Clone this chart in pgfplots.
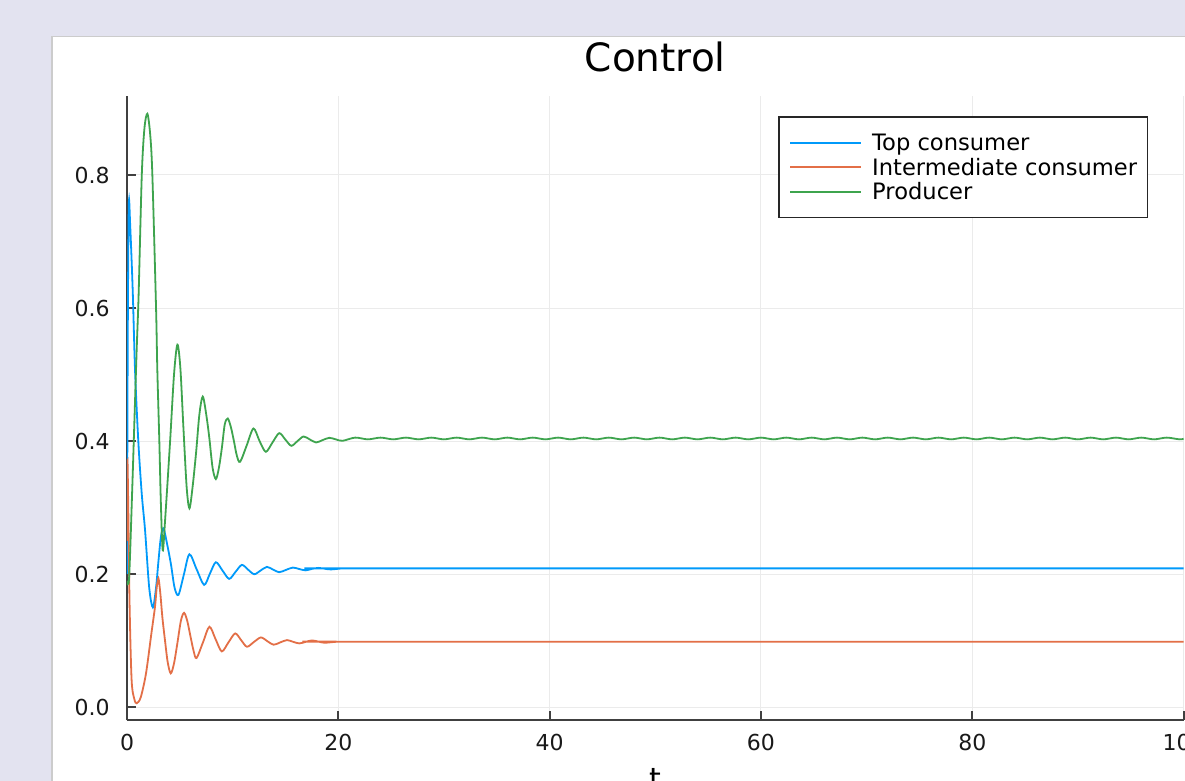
\documentclass[border=0pt]{standalone}
\usepackage{pgfplots}
\pgfplotsset{compat=1.18}
\usepackage{fontspec}
\setmainfont{DejaVu Sans}
\definecolor{bgl}{RGB}{227,227,240}
\definecolor{jblue}{RGB}{0,154,250}
\definecolor{jorange}{RGB}{227,111,71}
\definecolor{jgreen}{RGB}{62,164,78}
\begin{document}
\begin{tikzpicture}
\useasboundingbox (0pt,0pt) rectangle (592.5pt,-390.5pt);
\clip (0pt,0pt) rectangle (592.5pt,-390.5pt);
\fill[bgl] (0pt,0pt) rectangle (592.5pt,-390.5pt);
\fill[white, draw=black!20, line width=0.6pt] (26pt,-18.3pt) rectangle (640pt,-420pt);
\begin{axis}[
  at={(63.5pt,-360pt)}, anchor=south west,
  scale only axis, width=528.3pt, height=312pt,
  xmin=0, xmax=100, ymin=-0.0191, ymax=0.9187,
  axis x line*=bottom, axis y line*=left,
  axis line style={-, black!75, line width=1pt},
  xtick={0,20,40,60,80,100}, ytick={0,0.2,0.4,0.6,0.8},
  tick align=inside, major tick length=4.3pt,
  tick style={black!75, line width=1pt},
  grid=major, major grid style={black!8, line width=0.5pt},
  /pgf/number format/assume math mode=true,
  tick label style={font=\fontsize{11}{13}\selectfont, text=black!90},
  yticklabel style={anchor=east, inner sep=0pt, xshift=-8.5pt, /pgf/number format/.cd, fixed, fixed zerofill, precision=1},
  xticklabel style={anchor=base, inner sep=0pt, yshift=-15pt},
  xlabel={t},
  xlabel style={at={(0.5,0)}, anchor=base, inner sep=0pt, yshift=-34.75pt, font=\fontsize{15}{18}\selectfont},
  title={Control},
  title style={at={(0.5,1)}, anchor=base, inner sep=0pt, yshift=6.5pt, font=\fontsize{19.5}{22}\selectfont},
  legend style={at={(0.9666,0.968)}, anchor=north east, draw=black!85, line width=0.8pt, fill=white,
    inner xsep=5.2pt, inner ysep=6.8pt, font=\fontsize{11.3}{12.25}\selectfont,
    nodes={inner sep=0pt, text height=10.2pt, text depth=2.05pt},
    row sep=0pt, /tikz/every odd column/.append style={column sep=5pt}},
  legend cell align=left,
  legend image code/.code={\draw[#1, line width=1.0pt] (0pt,0pt) -- (35.5pt,0pt);},
]
\addplot[jblue, line width=0.9pt, smooth, no markers] coordinates {
(0,0.2) (0.07,0.55) (0.17,0.755) (0.3,0.725) (0.54,0.627) (0.76,0.507) (1.07,0.40) (1.4,0.32) (1.71,0.266) (2.1,0.18) (2.45,0.150) (2.75,0.18) (2.95,0.215) (3.2,0.255) (3.45,0.269) (3.8,0.245) (4.16,0.215) (4.5,0.18) (4.87,0.169) (5.39,0.2) (5.91,0.230) (6.6,0.207) (7.3,0.184) (7.85,0.201) (8.41,0.218) (9.04,0.2055) (9.67,0.193) (10.27,0.2035) (10.87,0.214) (11.45,0.207) (12.04,0.200) (12.64,0.2055) (13.24,0.211) (13.82,0.207) (14.4,0.203) (15.05,0.2065) (15.7,0.210) (16.3,0.2078) (16.9,0.2058) (17.5,0.208) (18.1,0.2095) (18.7,0.2083) (19.3,0.2072) (20.5,0.2088) (22,0.2088) (100,0.2088)
};
\addlegendentry{Top consumer}
\addplot[jorange, line width=0.9pt, smooth, no markers] coordinates {
(0,0.25) (0.04,0.37) (0.12,0.30) (0.25,0.15) (0.44,0.04) (0.7,0.012) (0.92,0.006) (1.3,0.015) (1.8,0.051) (2.3,0.11) (2.65,0.151) (2.8,0.178) (2.97,0.194) (3.15,0.172) (3.35,0.135) (3.6,0.10) (3.85,0.068) (4.14,0.051) (4.45,0.066) (4.77,0.0965) (5.1,0.13) (5.4,0.142) (5.7,0.13) (5.99,0.108) (6.3,0.085) (6.58,0.074) (7.19,0.0975) (7.8,0.121) (8.38,0.1025) (8.97,0.084) (9.6,0.0975) (10.24,0.111) (10.8,0.101) (11.35,0.091) (12.0,0.098) (12.67,0.105) (13.27,0.0995) (13.87,0.094) (14.5,0.0975) (15.14,0.101) (15.7,0.0985) (16.3,0.096) (16.9,0.0983) (17.5,0.1005) (18.1,0.0988) (18.7,0.097) (20,0.0986) (22,0.0986) (100,0.0986)
};
\addlegendentry{Intermediate consumer}
\addplot[jgreen, line width=0.9pt, smooth, no markers] coordinates {
(0,0.19) (0.2,0.195) (0.5,0.33) (0.9,0.53) (1.1,0.62) (1.4,0.80) (1.65,0.87) (1.93,0.892) (2.2,0.86) (2.4,0.80) (2.75,0.60) (2.87,0.507) (3.06,0.40) (3.2,0.31) (3.38,0.236) (3.6,0.28) (4.08,0.40) (4.45,0.50) (4.77,0.545) (5.05,0.51) (5.34,0.42) (5.65,0.33) (5.91,0.299) (6.2,0.33) (6.54,0.383) (6.85,0.44) (7.17,0.467) (7.5,0.44) (7.79,0.405) (8.1,0.36) (8.41,0.343) (8.7,0.36) (8.98,0.39) (9.25,0.425) (9.54,0.434) (9.85,0.42) (10.12,0.40) (10.4,0.378) (10.71,0.369) (11.34,0.394) (11.97,0.419) (12.55,0.40) (13.14,0.384) (13.77,0.398) (14.41,0.412) (14.98,0.4025) (15.55,0.393) (16.13,0.40) (16.71,0.407) (17.3,0.4025) (17.9,0.398) (18.5,0.4015) (19.15,0.405) (19.8,0.4025) (20.4,0.4005)
(21.6,0.4053) (22.8,0.4027) (24.0,0.4053) (25.2,0.4027) (26.4,0.4053) (27.6,0.4027) (28.8,0.4053) (30.0,0.4027) (31.2,0.4053) (32.4,0.4027) (33.6,0.4053) (34.8,0.4027) (36.0,0.4053) (37.2,0.4027) (38.4,0.4053) (39.6,0.4027) (40.8,0.4053) (42.0,0.4027) (43.2,0.4053) (44.4,0.4027) (45.6,0.4053) (46.8,0.4027) (48.0,0.4053) (49.2,0.4027) (50.4,0.4053) (51.6,0.4027) (52.8,0.4053) (54.0,0.4027) (55.2,0.4053) (56.4,0.4027) (57.6,0.4053) (58.8,0.4027) (60.0,0.4053) (61.2,0.4027) (62.4,0.4053) (63.6,0.4027) (64.8,0.4053) (66.0,0.4027) (67.2,0.4053) (68.4,0.4027) (69.6,0.4053) (70.8,0.4027) (72.0,0.4053) (73.2,0.4027) (74.4,0.4053) (75.6,0.4027) (76.8,0.4053) (78.0,0.4027) (79.2,0.4053) (80.4,0.4027) (81.6,0.4053) (82.8,0.4027) (84.0,0.4053) (85.2,0.4027) (86.4,0.4053) (87.6,0.4027) (88.8,0.4053) (90.0,0.4027) (91.2,0.4053) (92.4,0.4027) (93.6,0.4053) (94.8,0.4027) (96.0,0.4053) (97.2,0.4027) (98.4,0.4053) (99.6,0.4027) (100,0.4035)
};
\addlegendentry{Producer}
\end{axis}
\end{tikzpicture}
\end{document}
